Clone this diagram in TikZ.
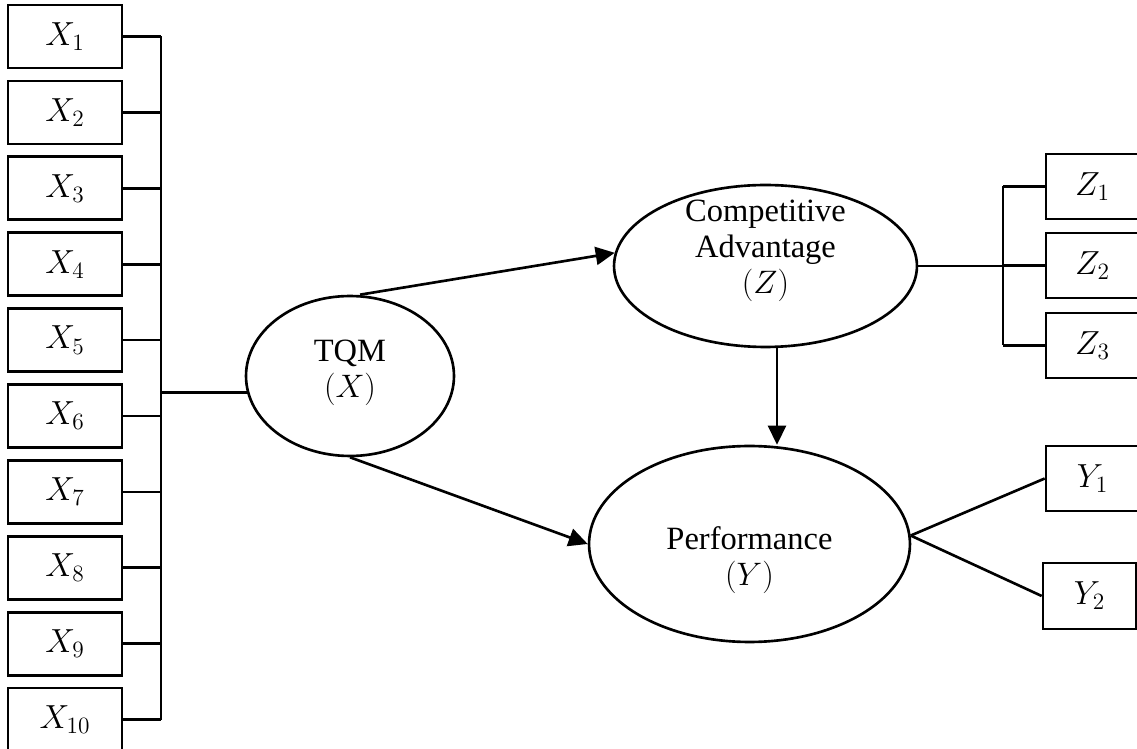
\RequirePackage{fix-cm}
\documentclass[tikz,border=0pt]{standalone}
\usepackage{fontspec}
\setmainfont{Liberation Serif}
\usetikzlibrary{shapes.geometric,arrows.meta}
\tikzset{
  ind/.style={draw,line width=1.5pt,inner sep=0pt,font=\fontsize{19}{20.5}\selectfont},
  xbox/.style={ind,minimum width=2.28cm,minimum height=1.26cm},
  rbox/.style={ind,minimum width=1.86cm,minimum height=1.3cm},
  lat/.style={draw,ellipse,line width=1.5pt,inner sep=0pt},
  lattext/.style={align=center,font=\fontsize{18.5}{20.5}\selectfont},
  conn/.style={line width=1.5pt},
  arr/.style={line width=1.5pt,-{Triangle[length=0.38cm,width=0.36cm]}}
}
\begin{document}
\begin{tikzpicture}[x=0.02cm,y=-0.02cm]
\useasboundingbox (0,0) rectangle (1137,749);
\clip (0,0) rectangle (1137,749);
% indicator boxes X
\foreach \i in {1,...,10}{
  \pgfmathsetmacro{\yy}{36.5+75.9*(\i-1)}
  \node[xbox] (x\i) at (65,\yy) {$X_{\i}$};
}
\coordinate (xbus) at (161,0);
\foreach \i in {1,...,10}{
  \draw[conn] (x\i.east) -- (x\i.east -| xbus);
}
\draw[conn] (x1.east -| xbus) -- (x10.east -| xbus);
% latent variables
\node[lat,minimum width=4.16cm,minimum height=3.2cm,
  label={[lattext,yshift=0.06cm]center:TQM\\$(X)$}] (tqm) at (350,376) {};
\node[lat,minimum width=6.06cm,minimum height=3.24cm,
  label={[lattext,yshift=0.3cm]center:Competitive\\Advantage\\$(Z)$}] (ca) at (765.5,266) {};
\node[lat,minimum width=6.42cm,minimum height=3.92cm,
  label={[lattext,yshift=-0.32cm]center:Performance\\$(Y)$}] (perf) at (749.5,544) {};
\draw[conn] (tqm.189) -- (tqm.189 -| xbus);
% Z indicators
\node[rbox] (z1) at (1092.5,186.5) {$Z_1$};
\node[rbox] (z2) at (1092.5,265.5) {$Z_2$};
\node[rbox] (z3) at (1092.5,345.5) {$Z_3$};
\coordinate (zbus) at (1003,0);
\draw[conn] (ca.east) -- (ca.east -| zbus);
\draw[conn] (z1.west -| zbus) -- (z3.west -| zbus);
\foreach \i in {1,2,3}{
  \draw[conn] (z\i.west) -- (z\i.west -| zbus);
}
% Y indicators
\node[rbox] (y1) at (1092.5,478.5) {$Y_1$};
\node[rbox,minimum height=1.32cm] (y2) at (1089.5,596) {$Y_2$};
\draw[conn] (perf.3) -- (y1.west);
\draw[conn] (perf.3) -- (y2.west);
% structural paths
\draw[arr] ([xshift=0.2cm]tqm.north) -- (ca.175);
\draw[arr] (tqm.south) -- (perf.west);
\draw[arr] ([xshift=0.23cm]ca.south) -- ([xshift=0.23cm]ca.south |- perf.north);
\end{tikzpicture}
\end{document}
